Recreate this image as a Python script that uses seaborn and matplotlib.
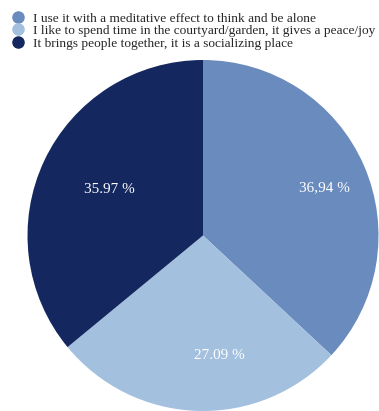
import matplotlib
matplotlib.use("Agg")
import matplotlib.pyplot as plt
from matplotlib.lines import Line2D
import numpy as np
import seaborn as sns

categories = [
    "I use it with a meditative effect to think and be alone",
    "I like to spend time in the courtyard/garden, it gives a peace/joy",
    "It brings people together, it is a socializing place",
]
values = [36.94, 27.09, 35.97]
value_labels = ["36,94 %", "27.09 %", "35.97 %"]
colors = sns.color_palette(["#6a8bbd", "#a3c0df", "#14285f"])

# label placement (radius fraction, angle in degrees)
label_pos = [(0.745, 21.6), (0.69, -82.0), (0.595, 153.7)]

sns.set_style("white")
plt.rcParams["font.family"] = ["Liberation Serif", "DejaVu Serif"]

fig = plt.figure(figsize=(3.79, 4.11), dpi=100)
ax = fig.add_axes([27.5 / 379, 0.0, 351 / 379, 351 / 411])
wedges, texts = ax.pie(values, colors=colors, startangle=90, counterclock=False,
                       radius=1.0, wedgeprops=dict(linewidth=0))
for lab, (r, a) in zip(value_labels, label_pos):
    ang = np.deg2rad(a)
    ax.text(r * np.cos(ang), r * np.sin(ang), lab, ha="center", va="center",
            color="white", fontsize=11)
ax.set_xlim(-1, 1)
ax.set_ylim(-1, 1)
ax.set_aspect("equal")
ax.axis("off")

handles = [Line2D([0], [0], marker="o", linestyle="", markersize=8,
                  markerfacecolor=c, markeredgecolor=c) for c in colors]
fig.legend(handles, categories, loc="upper left", bbox_to_anchor=(0.005, 0.993),
           frameon=False, fontsize=9.6, handletextpad=0.6, labelspacing=0.02,
           borderaxespad=0.3, handlelength=1.0)

fig.savefig("out.png", dpi=100)
